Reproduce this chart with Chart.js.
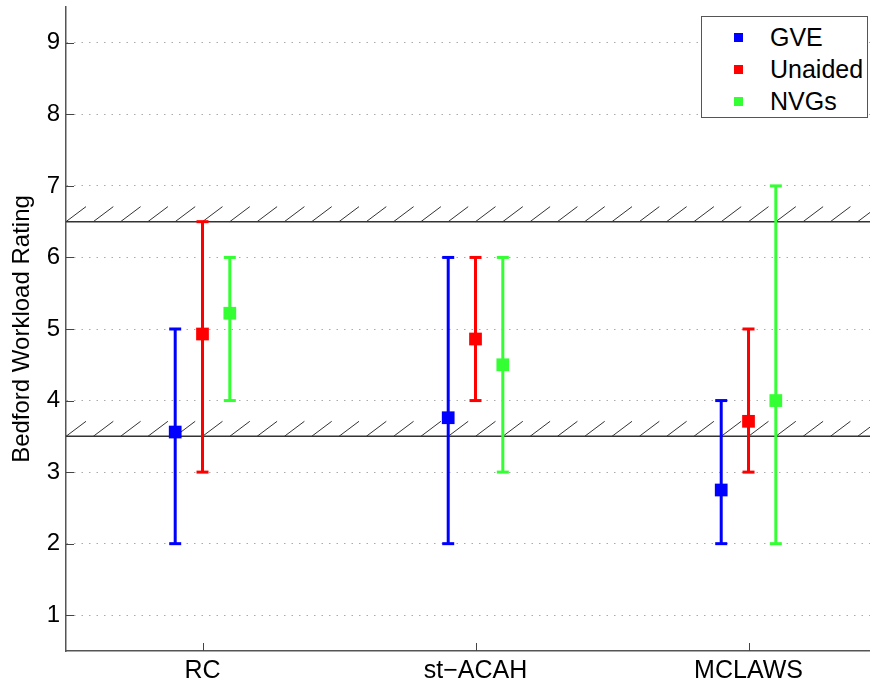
<!DOCTYPE html>
<html>
<head>
<meta charset="utf-8">
<script src="https://cdn.jsdelivr.net/npm/chart.js@4"></script>
<style>
  body { margin: 0; background: #fff; overflow: hidden; }
  #wrap { position: relative; width: 870px; height: 688px; }
  #legend {
    position: absolute; left: 701px; top: 16px; width: 165px; height: 100px;
    border: 1px solid #555; background: #fff; font-family: "Liberation Sans", Arial, sans-serif;
  }
  .item { position: absolute; left: 0; height: 32px; line-height: 32px; font-size: 25px; color: #000; }
  .item span.box { position: absolute; left: 32px; top: 12px; width: 9px; height: 9px; }
  .item span.txt { position: absolute; left: 68px; white-space: nowrap; }
</style>
</head>
<body>
<div id="wrap">
  <canvas id="chart" width="870" height="688"></canvas>
  <div id="legend"></div>
</div>
<script>
// categories and series
const categories = ['RC', 'st\u2212ACAH', 'MCLAWS'];
const seriesNames = ['GVE', 'Unaided', 'NVGs'];
const seriesColors = ['#0000ff', '#ff0000', '#33ff33'];

// mean, min and max per category for each series
const gveMean = [3.56, 3.76, 2.75];
const gveLow = [2, 2, 2];
const gveHigh = [5, 6, 4];
const unaidedMean = [4.93, 4.86, 3.71];
const unaidedLow = [3, 4, 3];
const unaidedHigh = [6.5, 6, 5];
const nvgMean = [5.22, 4.5, 4.0];
const nvgLow = [4, 3, 2];
const nvgHigh = [6, 6, 7];

const yTicks = [1, 2, 3, 4, 5, 6, 7, 8, 9];
const bandLines = [6.5, 3.5]; // hatched workload boundaries

const means = [gveMean, unaidedMean, nvgMean];
const lows = [gveLow, unaidedLow, nvgLow];
const highs = [gveHigh, unaidedHigh, nvgHigh];
const groupOffset = 0.1;

const fontFamily = '"Liberation Sans", Arial, sans-serif';

var datasets = [];
for (var s = 0; s < seriesNames.length; s++) {
    var off = (s - 1) * groupOffset;
    var bars = [];
    var pts = [];
    for (var i = 0; i < categories.length; i++) {
        var x = i + 1 + off;
        bars.push({ x: x, y: lows[s][i] });
        bars.push({ x: x, y: highs[s][i] });
        bars.push({ x: x, y: null });
        pts.push({ x: x, y: means[s][i] });
    }
    //vertical error bar with caps
    datasets.push({
        type: 'line',
        label: seriesNames[s] + ' range',
        data: bars,
        borderColor: seriesColors[s],
        borderWidth: 3,
        spanGaps: false,
        pointStyle: 'line',
        pointRadius: 6,
        pointBorderWidth: 3,
        pointBorderColor: seriesColors[s],
        pointHoverRadius: 6
    });
    //mean marker
    datasets.push({
        type: 'scatter',
        label: seriesNames[s],
        data: pts,
        pointStyle: 'rect',
        pointRadius: 9,
        pointBorderWidth: 0,
        pointBackgroundColor: seriesColors[s],
        pointBorderColor: seriesColors[s]
    });
}

// hatched lines and inward tick marks
const extras = {
    id: 'extras',
    beforeDatasetsDraw(chart) {
        const ctx = chart.ctx;
        const xs = chart.scales.x, ys = chart.scales.y;
        const area = chart.chartArea;
        ctx.save();
        ctx.beginPath();
        ctx.rect(area.left, area.top, area.right - area.left, area.bottom - area.top);
        ctx.clip();
        bandLines.forEach(v => {
            const y = ys.getPixelForValue(v);
            ctx.strokeStyle = '#333';
            ctx.lineWidth = 1.5;
            ctx.beginPath();
            ctx.moveTo(area.left, y);
            ctx.lineTo(area.right, y);
            ctx.stroke();
            ctx.lineWidth = 1;
            const yTop = ys.getPixelForValue(v + 0.21);
            for (var hx = xs.min; hx < xs.max; hx += 0.1) {
                const p = xs.getPixelForValue(hx);
                ctx.beginPath();
                ctx.moveTo(p, y);
                ctx.lineTo(p + 20, yTop);
                ctx.stroke();
            }
        });
        ctx.restore();
    },
    afterDraw(chart) {
        const ctx = chart.ctx;
        const xs = chart.scales.x, ys = chart.scales.y;
        const area = chart.chartArea;
        ctx.save();
        ctx.strokeStyle = '#444';
        ctx.lineWidth = 1;
        ys.ticks.forEach(t => {
            const y = Math.round(ys.getPixelForValue(t.value)) + 0.5;
            ctx.beginPath();
            ctx.moveTo(area.left, y);
            ctx.lineTo(area.left + 8, y);
            ctx.stroke();
        });
        xs.ticks.forEach(t => {
            const x = Math.round(xs.getPixelForValue(t.value)) + 0.5;
            ctx.beginPath();
            ctx.moveTo(x, area.bottom);
            ctx.lineTo(x, area.bottom - 8);
            ctx.stroke();
        });
        ctx.restore();
    }
};

new Chart(document.getElementById('chart'), {
    data: { datasets: datasets },
    plugins: [extras],
    options: {
        responsive: false,
        animation: false,
        layout: { autoPadding: false, padding: { top: 7, right: 0, left: 0, bottom: 0 } },
        plugins: {
            legend: { display: false },
            tooltip: { enabled: false }
        },
        scales: {
            x: {
                type: 'linear',
                min: 0.5,
                max: 3.445,
                afterBuildTicks: s => { s.ticks = categories.map((c, i) => ({ value: i + 1 })); },
                afterFit: s => { s.height = 37; s.paddingLeft = 0; s.paddingRight = 0; },
                ticks: {
                    callback: v => categories[v - 1],
                    font: { family: fontFamily, size: 25 },
                    color: '#000',
                    padding: 5,
                    maxRotation: 0
                },
                grid: { display: false, drawTicks: false },
                border: { display: true, color: '#555', width: 1.5 }
            },
            y: {
                min: 0.5,
                max: 9.5,
                afterBuildTicks: s => { s.ticks = yTicks.map(v => ({ value: v })); },
                afterFit: s => { s.width = 66; s.paddingTop = 0; s.paddingBottom = 0; },
                ticks: { font: { family: fontFamily, size: 24 }, color: '#000', padding: 6 },
                grid: { color: '#aaa', lineWidth: 1, drawTicks: false },
                border: { display: true, color: '#555', width: 1.5, dash: [1.5, 6] },
                title: {
                    display: true,
                    text: 'Bedford Workload Rating',
                    font: { family: fontFamily, size: 24 },
                    color: '#000',
                    padding: { top: 8, bottom: 0 }
                }
            }
        }
    }
});

// legend built from the series names and colours
const legend = document.getElementById('legend');
seriesNames.forEach((name, i) => {
    const row = document.createElement('div');
    row.className = 'item';
    row.style.top = (4 + i * 32) + 'px';
    row.innerHTML = '<span class="box" style="background:' + seriesColors[i] + '"></span><span class="txt">' + name + '</span>';
    legend.appendChild(row);
});
</script>
</body>
</html>
